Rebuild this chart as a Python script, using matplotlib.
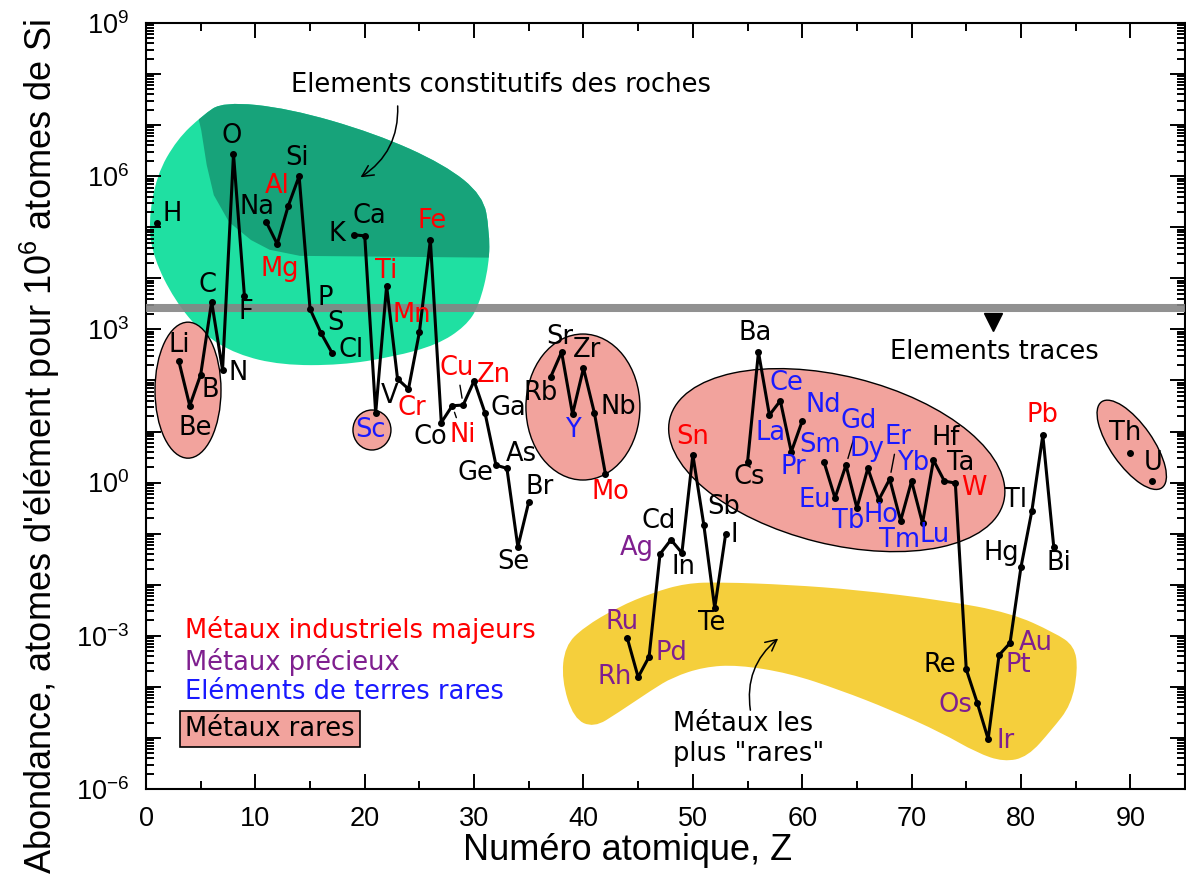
import numpy as np
import matplotlib
matplotlib.use('Agg')
import matplotlib.pyplot as plt
from matplotlib.patches import Ellipse, PathPatch
from matplotlib.path import Path
from matplotlib.transforms import ScaledTranslation
from matplotlib.ticker import LogLocator, FuncFormatter, MultipleLocator, NullFormatter

plt.rcParams['font.family'] = 'Liberation Sans'
plt.rcParams['mathtext.default'] = 'regular'

# abondance dans la croute superieure, atomes pour 1e6 atomes de Si
symbols = ['H', 'He', 'Li', 'Be', 'B', 'C', 'N', 'O', 'F', 'Ne',
           'Na', 'Mg', 'Al', 'Si', 'P', 'S', 'Cl', 'Ar', 'K', 'Ca',
           'Sc', 'Ti', 'V', 'Cr', 'Mn', 'Fe', 'Co', 'Ni', 'Cu', 'Zn',
           'Ga', 'Ge', 'As', 'Se', 'Br', 'Kr', 'Rb', 'Sr', 'Y', 'Zr',
           'Nb', 'Mo', 'Tc', 'Ru', 'Rh', 'Pd', 'Ag', 'Cd', 'In', 'Sn',
           'Sb', 'Te', 'I', 'Xe', 'Cs', 'Ba', 'La', 'Ce', 'Pr', 'Nd',
           'Pm', 'Sm', 'Eu', 'Gd', 'Tb', 'Dy', 'Ho', 'Er', 'Tm', 'Yb',
           'Lu', 'Hf', 'Ta', 'W', 'Re', 'Os', 'Ir', 'Pt', 'Au', 'Hg',
           'Tl', 'Pb', 'Bi', 'Po', 'At', 'Rn', 'Fr', 'Ra', 'Ac', 'Th',
           'Pa', 'U']
nan = np.nan
abundance = [1.2e5, nan, 240, 32, 130, 3500, 160, 2.7e6, 4500, nan,
             1.26e5, 4.7e4, 2.6e5, 1.0e6, 2500, 850, 350, nan, 7.1e4, 6.8e4,
             23, 7100, 107, 68, 890, 5.6e4, 15, 32, 33, 98,
             23, 2.2, 1.9, 0.055, 0.42, nan, 117, 360, 22, 174,
             23, 1.5, nan, 9.1e-4, 1.55e-4, 3.9e-4, 0.040, 0.076, 0.042, 3.5,
             0.15, 3.5e-3, 0.098, nan, 2.5, 360, 21, 40, 4.0, 16,
             nan, 2.5, 0.50, 2.2, 0.32, 1.9, 0.46, 1.17, 0.18, 1.07,
             0.16, 2.75, 1.07, 0.98, 2.2e-4, 4.9e-5, 9.5e-6, 4.2e-4, 7.2e-4, 0.022,
             0.28, 8.5, 0.055, nan, nan, nan, nan, nan, nan, 3.8,
             nan, 1.07]
Z = np.arange(1, len(symbols) + 1)

industrial = ['Mg', 'Al', 'Ti', 'Cr', 'Mn', 'Fe', 'Ni', 'Cu', 'Zn', 'Mo', 'Sn', 'W', 'Pb']
precious = ['Ru', 'Rh', 'Pd', 'Ag', 'Os', 'Ir', 'Pt', 'Au']
rare_earth = ['Sc', 'Y', 'La', 'Ce', 'Pr', 'Nd', 'Sm', 'Eu', 'Gd', 'Tb', 'Dy',
              'Ho', 'Er', 'Tm', 'Yb', 'Lu']
leaders = ['Ni', 'Cu', 'Gd', 'Er']

# decalage des etiquettes (pixels, y vers le haut)
offs = {'H': (15, 9), 'Li': (0, 16), 'Be': (6, -22), 'B': (10, -15), 'C': (-4, 17),
        'N': (16, -3), 'O': (-2, 18), 'F': (1, -16), 'Na': (-9, 15), 'Mg': (3, -25),
        'Al': (-11, 20), 'Si': (-2, 18), 'P': (15, 11), 'S': (14, 10), 'Cl': (19, 3),
        'K': (-17, 1), 'Ca': (5, 20), 'Sc': (-5, -17), 'Ti': (0, 15), 'V': (-8, -17),
        'Cr': (3, -19), 'Mn': (-8, 17), 'Fe': (2, 19), 'Co': (-11, -14), 'Ni': (10, -29),
        'Cu': (-6, 37), 'Zn': (20, 6), 'Ga': (23, 5), 'Ge': (-21, -8), 'As': (14, 14),
        'Se': (-4, -15), 'Br': (11, 15), 'Rb': (-10, -16), 'Sr': (-2, 15), 'Y': (0, -16),
        'Zr': (4, 18), 'Nb': (24, 6), 'Mo': (5, -18), 'Ru': (-5, 16), 'Rh': (-23, 0),
        'Pd': (22, 4), 'Ag': (-23, 6), 'Cd': (-12, 19), 'In': (2, -14), 'Sn': (0, 18),
        'Sb': (20, 18), 'Te': (-3, -15), 'I': (9, -1), 'Cs': (2, -15), 'Ba': (-3, 19),
        'La': (1, -18), 'Ce': (6, 18), 'Pr': (2, -15), 'Nd': (21, 16), 'Sm': (-4, 17),
        'Eu': (-20, -2), 'Gd': (13, 44), 'Tb': (-9, -13), 'Dy': (-1, 19), 'Ho': (2, -15),
        'Er': (8, 42), 'Tm': (-1, -19), 'Yb': (1, 18), 'Lu': (12, -12), 'Hf': (12, 22),
        'Ta': (16, 18), 'W': (19, -5), 'Re': (-26, 4), 'Os': (-22, -2), 'Ir': (17, -2),
        'Pt': (19, -10), 'Au': (26, 0), 'Hg': (-20, 14), 'Tl': (-16, 11), 'Pb': (0, 20),
        'Bi': (5, -16), 'Th': (-5, 20), 'U': (1, 18)}

# contours des zones (Z, log10 abondance)
rock_zone = [(7.06, 7.46), (13.05, 7.33), (20.94, 6.84), (27.30, 6.23), (30.83, 5.62),
             (31.39, 4.95), (31.39, 4.28), (30.45, 3.46), (29.21, 3.06), (26.64, 2.70),
             (22.55, 2.46), (17.80, 2.30), (12.38, 2.30), (8.29, 2.51), (5.16, 2.91),
             (2.59, 3.58), (0.69, 4.40), (0.21, 5.09), (0.97, 6.02), (2.83, 6.72),
             (5.16, 7.19)]
rock_dark = [(4.30, 7.60), (5.05, 6.90), (5.55, 6.22), (6.20, 5.63), (7.60, 5.10),
             (9.60, 4.75), (11.30, 4.56), (14.08, 4.44), (34.19, 4.40), (34.19, 7.60)]
rarest_zone = [(38.30, -3.20), (38.00, -3.86), (39.10, -4.62), (40.95, -4.80),
               (43.14, -4.51), (46.25, -4.06), (48.17, -3.81), (51.01, -3.61),
               (54.11, -3.57), (58.78, -3.73), (63.44, -4.06), (68.10, -4.45),
               (72.76, -4.90), (75.96, -5.29), (78.43, -5.47), (80.62, -5.37),
               (82.82, -4.84), (84.60, -4.35), (85.20, -3.67), (84.90, -3.20),
               (83.09, -2.94), (79.07, -2.55), (72.76, -2.30), (64.99, -2.10),
               (58.78, -2.00), (52.56, -1.95), (49.36, -1.97), (46.25, -2.16),
               (43.14, -2.44), (40.04, -2.83)]
# ellipses "metaux rares": centre (Z, log10), largeur, hauteur (px), angle
rare_ellipses = [((3.84, 1.81), 66, 136, 0), ((20.66, 1.03), 38, 40, 0),
                 ((39.95, 1.48), 114, 146, 0), ((63.16, 0.44), 344, 168, -14),
                 ((90.13, 0.74), 105, 42, -55)]

RED, PURPLE, BLUE = '#ff0000', '#7f1f8f', '#1a1aff'
PINK = '#f2a39d'
EF = ['DejaVu Sans']
FS = 18.5


def smooth_path(pts):
    p = np.asarray(pts, float)
    m = (p + np.roll(p, -1, axis=0)) / 2
    verts = [m[-1]]
    codes = [Path.MOVETO]
    for i in range(len(p)):
        verts += [p[i], m[i]]
        codes += [Path.CURVE3, Path.CURVE3]
    verts = np.array(verts)
    verts[:, 1] = 10 ** verts[:, 1]
    return Path(verts, codes)


fig = plt.figure(figsize=(11.86, 8.86), dpi=100)
ax = fig.add_axes([146 / 1186, 1 - 789 / 886, 1039 / 1186, 766 / 886])
ax.set_yscale('log')
ax.set_xlim(0, 95)
ax.set_ylim(1e-6, 1e9)

green = PathPatch(smooth_path(rock_zone), facecolor='#1fe0a2', edgecolor='none', zorder=1)
ax.add_patch(green)
dark = PathPatch(Path(np.column_stack([[p[0] for p in rock_dark], [10 ** p[1] for p in rock_dark]])),
                 facecolor='#17a37a', edgecolor='none', zorder=1.5)
ax.add_patch(dark)
dark.set_clip_path(green)
ax.add_patch(PathPatch(smooth_path(rarest_zone), facecolor='#f5cf3c', edgecolor='none', zorder=1))

for (cz, cl), w, h, ang in rare_ellipses:
    tr = fig.dpi_scale_trans + ScaledTranslation(cz, 10 ** cl, ax.transData)
    ax.add_patch(Ellipse((0, 0), w / 100, h / 100, angle=ang, transform=tr,
                         facecolor=PINK, edgecolor='k', lw=1, zorder=2))

ax.axhline(10 ** 3.42, color='#858585', lw=5.8, alpha=0.9, zorder=3)

ax.plot(Z, abundance, '-', color='k', lw=2.2, marker='o', ms=4, zorder=5)

for z, s, v in zip(Z, symbols, abundance):
    if np.isnan(v):
        continue
    c = RED if s in industrial else PURPLE if s in precious else BLUE if s in rare_earth else 'k'
    ap = dict(arrowstyle='-', color='k', lw=1, shrinkA=1, shrinkB=5) if s in leaders else None
    ax.annotate(s, (z, v), xytext=offs[s], textcoords='offset pixels', ha='center',
                va='center', color=c, fontsize=FS, family=EF, arrowprops=ap, zorder=6)

# annotations
ax.text(32.5, 10 ** 7.79, 'Elements constitutifs des roches', ha='center', va='center',
        fontsize=FS, family=EF, zorder=6)
ax.annotate('', xy=(19.4, 10 ** 5.95), xytext=(23.0, 10 ** 7.43),
            arrowprops=dict(arrowstyle='->', color='k', lw=1.1,
                            connectionstyle='arc3,rad=-0.3', mutation_scale=20), zorder=6)
ax.plot([77.4], [10 ** 3.15], marker='v', ms=13, color='k', zorder=6)
ax.text(77.6, 10 ** 2.56, 'Elements traces', ha='center', va='center', fontsize=FS,
        family=EF, zorder=6)
ax.text(48.2, 10 ** -5.02, 'Métaux les\nplus "rares"', ha='left', va='center',
        fontsize=FS, family=EF, linespacing=1.2, zorder=6)
ax.annotate('', xy=(58.0, 10 ** -3.02), xytext=(55.3, 10 ** -4.51),
            arrowprops=dict(arrowstyle='->', color='k', lw=1.1,
                            connectionstyle='arc3,rad=-0.3', mutation_scale=20), zorder=6)

# legende
ax.text(3.6, 10 ** -2.89, 'Métaux industriels majeurs', color=RED, fontsize=FS, family=EF,
        va='center', zorder=6)
ax.text(3.6, 10 ** -3.51, 'Métaux précieux', color=PURPLE, fontsize=FS, family=EF,
        va='center', zorder=6)
ax.text(3.6, 10 ** -4.10, 'Eléments de terres rares', color=BLUE, fontsize=FS, family=EF,
        va='center', zorder=6)
ax.text(3.6, 10 ** -4.82, 'Métaux rares', color='k', fontsize=FS, family=EF, va='center',
        zorder=6, bbox=dict(boxstyle='square,pad=0.2', facecolor=PINK, edgecolor='k', lw=1.2))

# axes
ax.xaxis.set_major_locator(MultipleLocator(10))
ax.xaxis.set_minor_locator(MultipleLocator(5))
ax.yaxis.set_major_locator(LogLocator(base=10, subs=[1.0], numticks=100))
ax.yaxis.set_minor_locator(LogLocator(base=10, subs=np.arange(2, 10), numticks=100))
ax.yaxis.set_minor_formatter(NullFormatter())


def ylab(v, p):
    e = int(round(np.log10(v)))
    return '$10^{%d}$' % e if e % 3 == 0 else ''


ax.yaxis.set_major_formatter(FuncFormatter(ylab))
ax.tick_params(which='both', direction='in', top=True, right=True, width=1.4)
ax.tick_params(which='major', length=11, labelsize=19.5)
ax.tick_params(which='minor', length=5.5)
ax.tick_params(axis='x', pad=12)
ax.tick_params(axis='y', pad=12)
for sp in ax.spines.values():
    sp.set_linewidth(1.5)

fig.text(628 / 1186, 1 - 850 / 886, 'Numéro atomique, Z', ha='center', va='center', fontsize=26)
fig.text(40 / 1186, 1 - 446 / 886, "Abondance, atomes d'élément pour 10$^6$ atomes de Si",
         ha='center', va='center', rotation=90, fontsize=26)

fig.savefig('out.png', dpi=100)
